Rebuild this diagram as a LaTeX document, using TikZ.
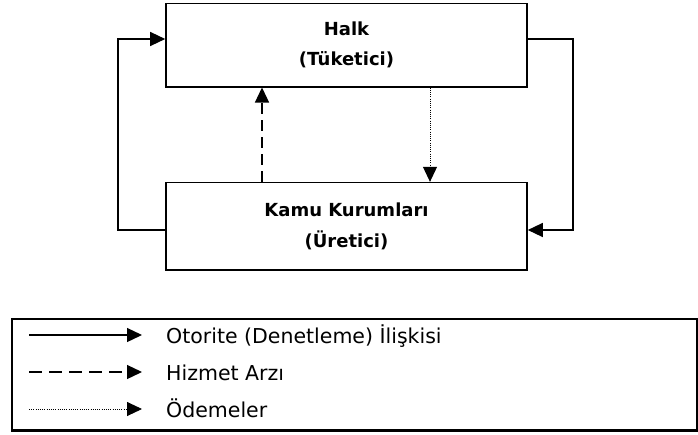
\documentclass[tikz,border=0pt]{standalone}
\usepackage{fontspec}
\setmainfont{DejaVu Sans}
\usetikzlibrary{arrows.meta}

\tikzset{
  unitbox/.style={draw, line width=1.6pt, rectangle, minimum width=361pt,
    inner sep=0pt, align=center,
    font=\bfseries\fontsize{18}{30.5}\selectfont},
  tip/.style={-{Triangle[length=15pt,width=14pt]}},
  authority/.style={tip, line width=1.3pt},
  service/.style={tip, line width=1.3pt, dash pattern=on 11pt off 6pt},
  payment/.style={tip, line width=0.9pt, dash pattern=on 1pt off 1.2pt},
  legendtext/.style={anchor=base west, inner sep=0pt,
    font=\fontsize{20.5}{24}\selectfont},
}

\begin{document}
\begin{tikzpicture}[x=1pt, y=1pt]
  \useasboundingbox (0,0) rectangle (698,-434);

  % the two actors
  \node[unitbox, minimum height=83.4pt] (halk) at (346.5,-45) {Halk\\(Tüketici)};
  \node[unitbox, minimum height=87.3pt] (kamu) at (346.5,-226.3) {Kamu Kurumları\\(Üretici)};

  % corners of the authority loops
  \coordinate (lb) at (118,-230);
  \coordinate (lt) at (118,-39);
  \coordinate (rt) at (573,-39);
  \coordinate (rb) at (573,-230);
  \coordinate (svc) at (262,0);
  \coordinate (pay) at (430,0);

  \draw[authority] (kamu.west |- lb) -- (lb) -- (lt) -- (halk.west |- lt);
  \draw[authority] (halk.east |- rt) -- (rt) -- (rb) -- (kamu.east |- rb);
  \draw[service] (kamu.north -| svc) -- (halk.south -| svc);
  \draw[payment] (halk.south -| pay) -- (kamu.north -| pay);

  % legend
  \draw[line width=2.2pt] (12,-319) rectangle (697,-430.5);

  \coordinate (a1) at (29,-335);  \coordinate (b1) at (142,-335);
  \coordinate (a2) at (29,-372);  \coordinate (b2) at (142,-372);
  \coordinate (a3) at (29,-409);  \coordinate (b3) at (142,-409);
  \draw[authority] (a1) -- (b1);
  \draw[tip, line width=1.3pt, dash pattern=on 13pt off 7pt] (a2) -- (b2);
  \draw[payment] (a3) -- (b3);

  \node[legendtext] (l1) at (166,-343) {Otorite (Denetleme) İlişkisi};
  \node[legendtext] (l2) at (166,-380) {Hizmet Arzı};
  \node[legendtext] (l3) at (166,-417) {Ödemeler};
\end{tikzpicture}
\end{document}
